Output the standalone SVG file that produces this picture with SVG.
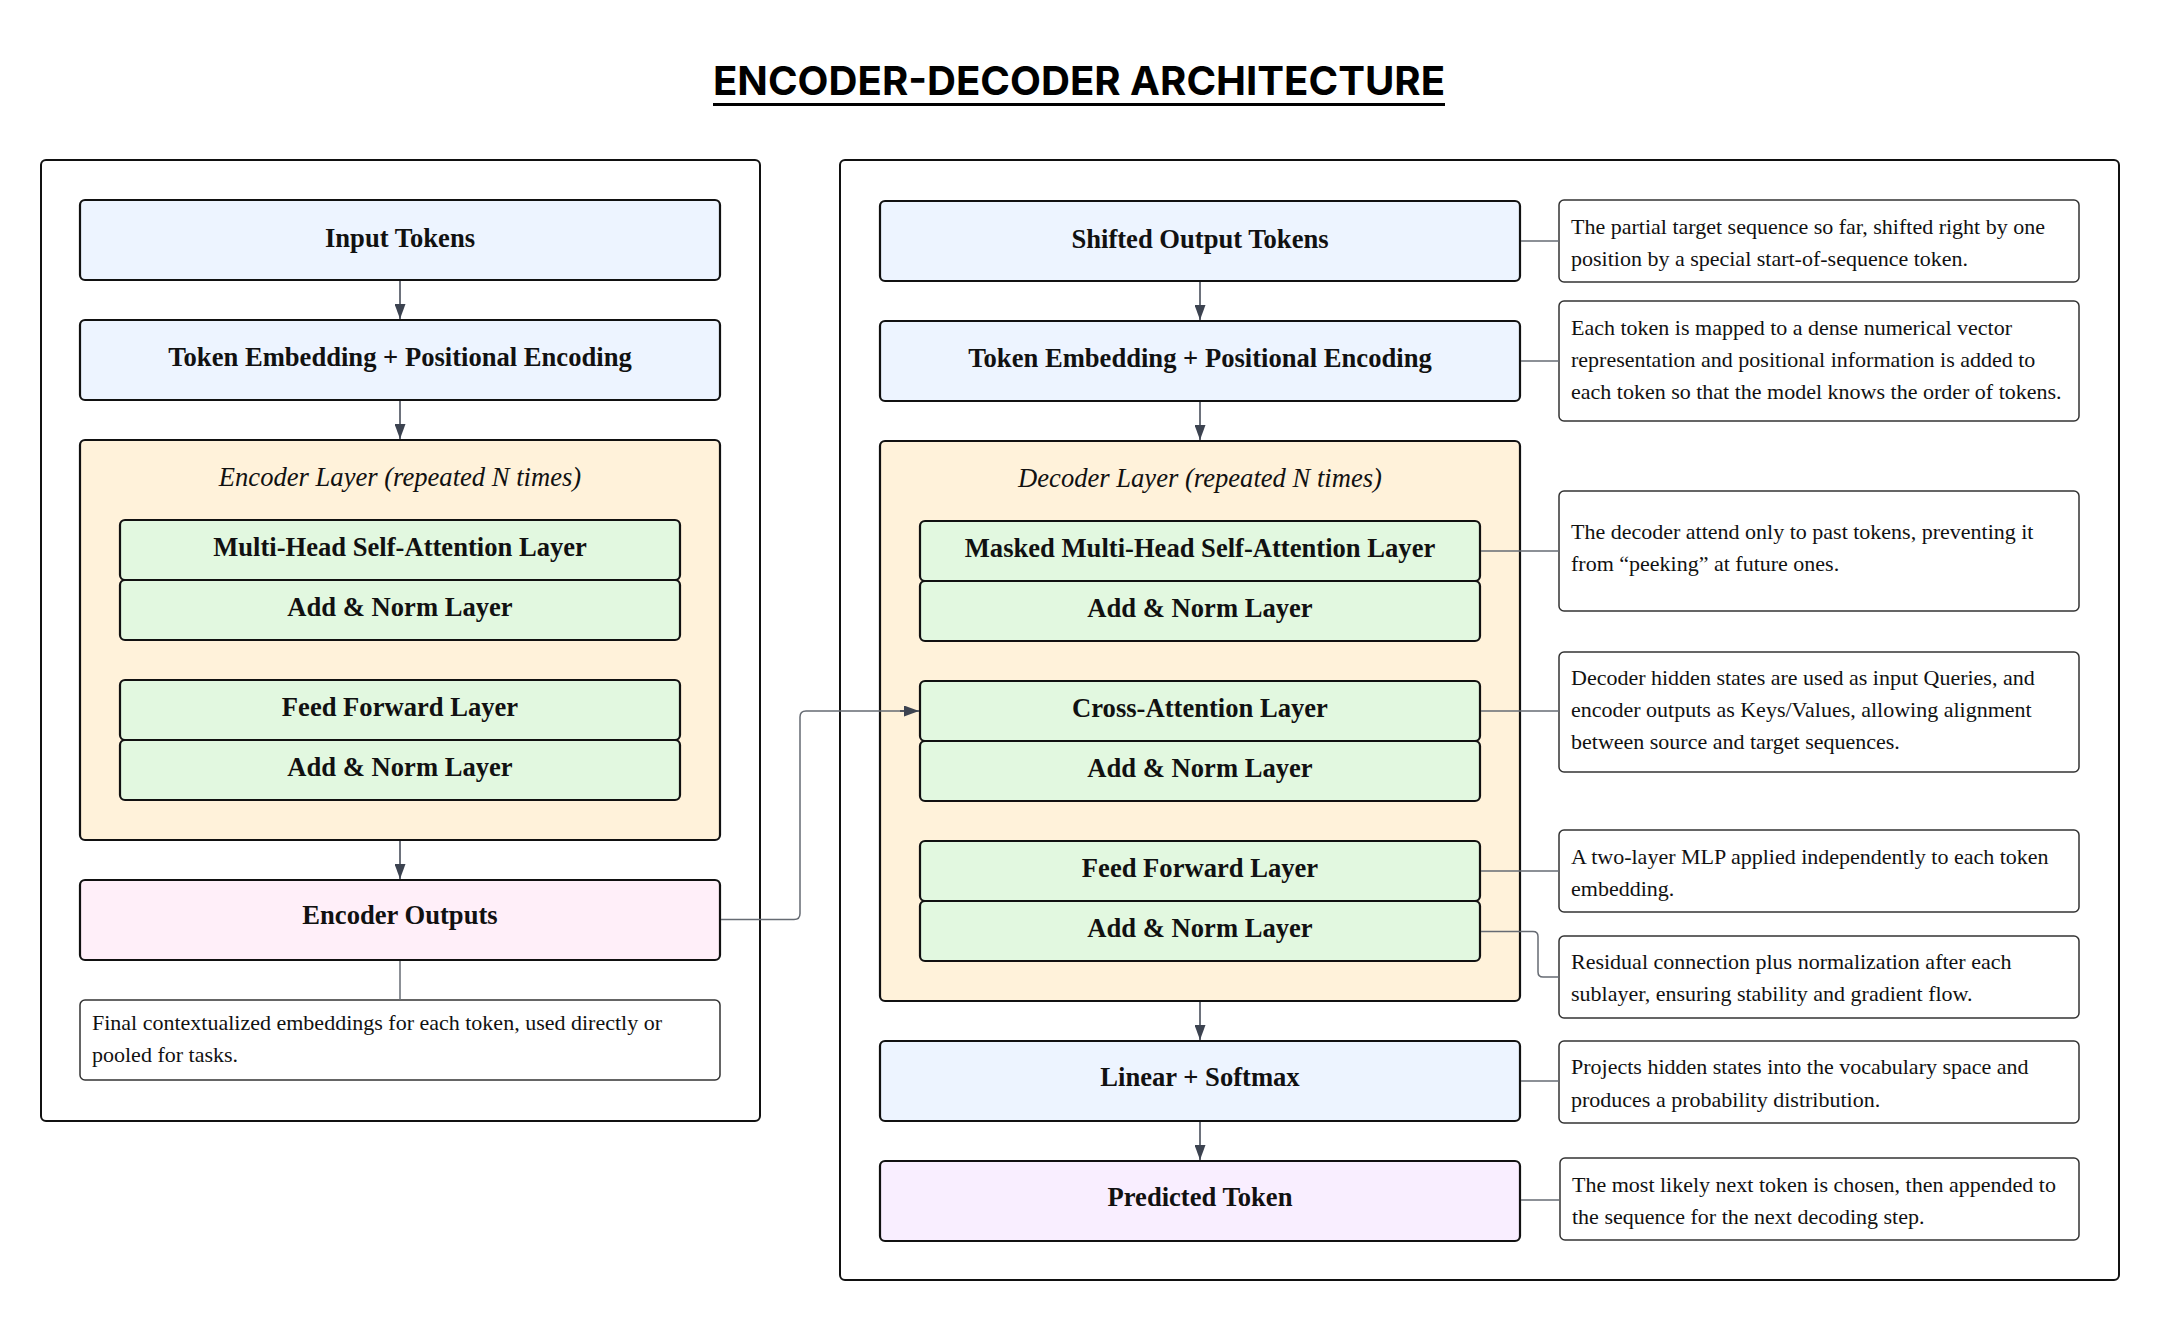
<svg xmlns="http://www.w3.org/2000/svg" width="2160" height="1320" viewBox="0 0 2160 1320">
<defs>
<marker id="ah" markerUnits="userSpaceOnUse" markerWidth="15" markerHeight="11" viewBox="0 0 15 11" refX="15" refY="5.5" orient="auto">
<path d="M0,0 L15,5.5 L0,11 z" fill="#3c4350"/>
</marker>
<style>
.outer{fill:#fff;stroke:#111;stroke-width:2}
.node{stroke:#111;stroke-width:2.2}
.blue{fill:#edf4ff}
.layer{fill:#fff2da}
.green{fill:#e2f8e0}
.pink{fill:#ffeff9}
.lav{fill:#f9eeff}
.note{fill:#fff;stroke:#333;stroke-width:1.5}
.lbl{font-family:"Liberation Serif","Times New Roman",serif;font-weight:700;font-size:26.6px;fill:#111;text-anchor:middle}
.ital{font-family:"Liberation Serif","Times New Roman",serif;font-style:italic;font-size:26.6px;fill:#111;text-anchor:middle}
.nt{font-family:"Liberation Serif","Times New Roman",serif;font-size:22px;fill:#111}
.arrow{fill:none;stroke:#3c4350;stroke-width:1.5}
.link{fill:none;stroke:#666b73;stroke-width:1.5}
.title{font-family:Inter,"Liberation Sans",sans-serif;font-weight:700;font-size:40px;fill:#000;text-anchor:middle}
</style>
</defs>
<rect width="2160" height="1320" fill="#fff"/>

<g id="title">
<text class="title" x="1079" y="95" textLength="732" lengthAdjust="spacingAndGlyphs">ENCODER-DECODER ARCHITECTURE</text>
<line x1="713" y1="104.5" x2="1445" y2="104.5" stroke="#000" stroke-width="3.2"/>
</g>

<g id="encoder-container"><rect class="outer" x="41" y="160" width="719" height="961" rx="5"/></g>
<g id="decoder-container"><rect class="outer" x="840" y="160" width="1279" height="1120" rx="5"/></g>

<g id="input-tokens"><rect class="node blue" x="80" y="200" width="640" height="80" rx="5"/><text class="lbl" x="400" y="247">Input Tokens</text></g>
<g id="enc-embedding"><rect class="node blue" x="80" y="320" width="640" height="80" rx="5"/><text class="lbl" x="400" y="366">Token Embedding + Positional Encoding</text></g>
<g id="encoder-layer"><rect class="node layer" x="80" y="440" width="640" height="400" rx="5"/><text class="ital" x="400" y="486">Encoder Layer (repeated N times)</text></g>
<g id="enc-mhsa"><rect class="node green" x="120" y="520" width="560" height="60" rx="5"/><text class="lbl" x="400" y="556">Multi-Head Self-Attention Layer</text></g>
<g id="enc-addnorm1"><rect class="node green" x="120" y="580" width="560" height="60" rx="5"/><text class="lbl" x="400" y="616">Add &amp; Norm Layer</text></g>
<g id="enc-ff"><rect class="node green" x="120" y="680" width="560" height="60" rx="5"/><text class="lbl" x="400" y="716">Feed Forward Layer</text></g>
<g id="enc-addnorm2"><rect class="node green" x="120" y="740" width="560" height="60" rx="5"/><text class="lbl" x="400" y="776">Add &amp; Norm Layer</text></g>
<g id="encoder-outputs"><rect class="node pink" x="80" y="880" width="640" height="80" rx="5"/><text class="lbl" x="400" y="924">Encoder Outputs</text></g>
<g id="enc-note"><rect class="note" x="80" y="1000" width="640" height="80" rx="5"/>
<text class="nt" x="92" y="1030">Final contextualized embeddings for each token, used directly or</text>
<text class="nt" x="92" y="1062">pooled for tasks.</text></g>

<g id="shifted-output"><rect class="node blue" x="880" y="201" width="640" height="80" rx="5"/><text class="lbl" x="1200" y="248">Shifted Output Tokens</text></g>
<g id="dec-embedding"><rect class="node blue" x="880" y="321" width="640" height="80" rx="5"/><text class="lbl" x="1200" y="367">Token Embedding + Positional Encoding</text></g>
<g id="decoder-layer"><rect class="node layer" x="880" y="441" width="640" height="560" rx="5"/><text class="ital" x="1200" y="487">Decoder Layer (repeated N times)</text></g>
<g id="dec-masked"><rect class="node green" x="920" y="521" width="560" height="60" rx="5"/><text class="lbl" x="1200" y="557">Masked Multi-Head Self-Attention Layer</text></g>
<g id="dec-addnorm1"><rect class="node green" x="920" y="581" width="560" height="60" rx="5"/><text class="lbl" x="1200" y="617">Add &amp; Norm Layer</text></g>
<g id="dec-cross"><rect class="node green" x="920" y="681" width="560" height="60" rx="5"/><text class="lbl" x="1200" y="717">Cross-Attention Layer</text></g>
<g id="dec-addnorm2"><rect class="node green" x="920" y="741" width="560" height="60" rx="5"/><text class="lbl" x="1200" y="777">Add &amp; Norm Layer</text></g>
<g id="dec-ff"><rect class="node green" x="920" y="841" width="560" height="60" rx="5"/><text class="lbl" x="1200" y="877">Feed Forward Layer</text></g>
<g id="dec-addnorm3"><rect class="node green" x="920" y="901" width="560" height="60" rx="5"/><text class="lbl" x="1200" y="937">Add &amp; Norm Layer</text></g>
<g id="linear-softmax"><rect class="node blue" x="880" y="1041" width="640" height="80" rx="5"/><text class="lbl" x="1200" y="1086">Linear + Softmax</text></g>
<g id="predicted-token"><rect class="node lav" x="880" y="1161" width="640" height="80" rx="5"/><text class="lbl" x="1200" y="1206">Predicted Token</text></g>

<g id="note-shifted"><rect class="note" x="1559" y="200" width="520" height="82" rx="5"/>
<text class="nt" x="1571" y="234">The partial target sequence so far, shifted right by one</text>
<text class="nt" x="1571" y="266">position by a special start-of-sequence token.</text></g>
<g id="note-embedding"><rect class="note" x="1559" y="301" width="520" height="120" rx="5"/>
<text class="nt" x="1571" y="335">Each token is mapped to a dense numerical vector</text>
<text class="nt" x="1571" y="367">representation and positional information is added to</text>
<text class="nt" x="1571" y="399">each token so that the model knows the order of tokens.</text></g>
<g id="note-masked"><rect class="note" x="1559" y="491" width="520" height="120" rx="5"/>
<text class="nt" x="1571" y="539">The decoder attend only to past tokens, preventing it</text>
<text class="nt" x="1571" y="571">from “peeking” at future ones.</text></g>
<g id="note-cross"><rect class="note" x="1559" y="652" width="520" height="120" rx="5"/>
<text class="nt" x="1571" y="685">Decoder hidden states are used as input Queries, and</text>
<text class="nt" x="1571" y="717">encoder outputs as Keys/Values, allowing alignment</text>
<text class="nt" x="1571" y="749">between source and target sequences.</text></g>
<g id="note-ff"><rect class="note" x="1559" y="830" width="520" height="82" rx="5"/>
<text class="nt" x="1571" y="864">A two-layer MLP applied independently to each token</text>
<text class="nt" x="1571" y="896">embedding.</text></g>
<g id="note-addnorm"><rect class="note" x="1559" y="936" width="520" height="82" rx="5"/>
<text class="nt" x="1571" y="969">Residual connection plus normalization after each</text>
<text class="nt" x="1571" y="1001">sublayer, ensuring stability and gradient flow.</text></g>
<g id="note-linear"><rect class="note" x="1559" y="1041" width="520" height="82" rx="5"/>
<text class="nt" x="1571" y="1074">Projects hidden states into the vocabulary space and</text>
<text class="nt" x="1571" y="1107">produces a probability distribution.</text></g>
<g id="note-predicted"><rect class="note" x="1560" y="1158" width="519" height="82" rx="5"/>
<text class="nt" x="1572" y="1192">The most likely next token is chosen, then appended to</text>
<text class="nt" x="1572" y="1224">the sequence for the next decoding step.</text></g>

<g id="connectors">
<line class="arrow" x1="400" y1="281" x2="400" y2="319" marker-end="url(#ah)"/>
<line class="arrow" x1="400" y1="401" x2="400" y2="439" marker-end="url(#ah)"/>
<line class="arrow" x1="400" y1="841" x2="400" y2="879" marker-end="url(#ah)"/>
<line class="link" x1="400" y1="961" x2="400" y2="1000"/>
<path class="link" d="M721,919.5 H794 Q800,919.5 800,913.5 V717 Q800,711 806,711 H905" stroke="#6b7280"/>
<line class="arrow" x1="900" y1="711" x2="919" y2="711" marker-end="url(#ah)"/>
<line class="arrow" x1="1200" y1="282" x2="1200" y2="320" marker-end="url(#ah)"/>
<line class="arrow" x1="1200" y1="402" x2="1200" y2="440" marker-end="url(#ah)"/>
<line class="arrow" x1="1200" y1="1002" x2="1200" y2="1040" marker-end="url(#ah)"/>
<line class="arrow" x1="1200" y1="1122" x2="1200" y2="1160" marker-end="url(#ah)"/>
<line class="link" x1="1521" y1="241" x2="1559" y2="241"/>
<line class="link" x1="1521" y1="361" x2="1559" y2="361"/>
<line class="link" x1="1481" y1="551" x2="1559" y2="551"/>
<line class="link" x1="1481" y1="711" x2="1559" y2="711"/>
<line class="link" x1="1481" y1="871" x2="1559" y2="871"/>
<path class="link" d="M1481,931.5 H1533 Q1538,931.5 1538,936.5 V972 Q1538,977 1543,977 H1559"/>
<line class="link" x1="1521" y1="1081" x2="1559" y2="1081"/>
<line class="link" x1="1521" y1="1200" x2="1559" y2="1200"/>
</g>
</svg>
